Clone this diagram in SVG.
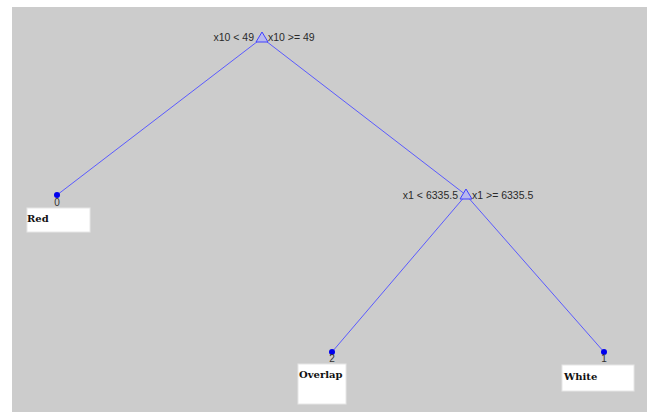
<svg xmlns="http://www.w3.org/2000/svg" width="647" height="412" viewBox="0 0 647 412">
  <style>
    .edge { stroke: #5a5aff; stroke-width: 1; fill: none; }
    .split { fill: #b8b8ee; stroke: #4040ff; stroke-width: 1; }
    .leafdot { fill: #0000ee; }
    .rule { font-family: "Liberation Sans", Arial, sans-serif; font-size: 10.5px; fill: #2a2a2a; }
    .idx { font-family: "Liberation Sans", Arial, sans-serif; font-size: 10px; fill: #333; text-anchor: middle; }
    .box { fill: #ffffff; stroke: #e6e6e6; stroke-width: 1; }
    .cls { font-family: "DejaVu Serif", "Liberation Serif", serif; font-size: 10px; font-weight: bold; fill: #111; }
  </style>

  <!-- canvas -->
  <rect x="0" y="0" width="647" height="412" fill="#ffffff"/>
  <rect x="12" y="7" width="635" height="405" fill="#cccccc"/>

  <!-- connectors -->
  <g id="edges">
    <line class="edge" x1="262" y1="38" x2="57" y2="195"/>
    <line class="edge" x1="262" y1="38" x2="466" y2="195"/>
    <line class="edge" x1="466" y1="195" x2="332" y2="352"/>
    <line class="edge" x1="466" y1="195" x2="604" y2="352"/>
  </g>

  <!-- root split -->
  <g id="node-root">
    <polygon class="split" points="262,32 256,42 268,42"/>
    <text class="rule" x="254" y="41" text-anchor="end">x10 &lt; 49</text>
    <text class="rule" x="268" y="41">x10 &gt;= 49</text>
  </g>

  <!-- second split -->
  <g id="node-x1">
    <polygon class="split" points="466,189 460,199 472,199"/>
    <text class="rule" x="458" y="199" text-anchor="end">x1 &lt; 6335.5</text>
    <text class="rule" x="472" y="199">x1 &gt;= 6335.5</text>
  </g>

  <!-- leaf: Red -->
  <g id="leaf-red">
    <circle class="leafdot" cx="57" cy="195" r="3"/>
    <text class="idx" x="57" y="206">0</text>
    <rect class="box" x="27" y="208" width="63" height="24"/>
    <text class="cls" x="27" y="222">Red</text>
  </g>

  <!-- leaf: Overlap -->
  <g id="leaf-overlap">
    <circle class="leafdot" cx="332" cy="352" r="3"/>
    <text class="idx" x="332" y="362">2</text>
    <rect class="box" x="298" y="364" width="48" height="40"/>
    <text class="cls" x="299" y="378">Overlap</text>
  </g>

  <!-- leaf: White -->
  <g id="leaf-white">
    <circle class="leafdot" cx="604" cy="352" r="3"/>
    <text class="idx" x="604" y="362">1</text>
    <rect class="box" x="562" y="365" width="72" height="26"/>
    <text class="cls" x="564" y="380">White</text>
  </g>
</svg>
